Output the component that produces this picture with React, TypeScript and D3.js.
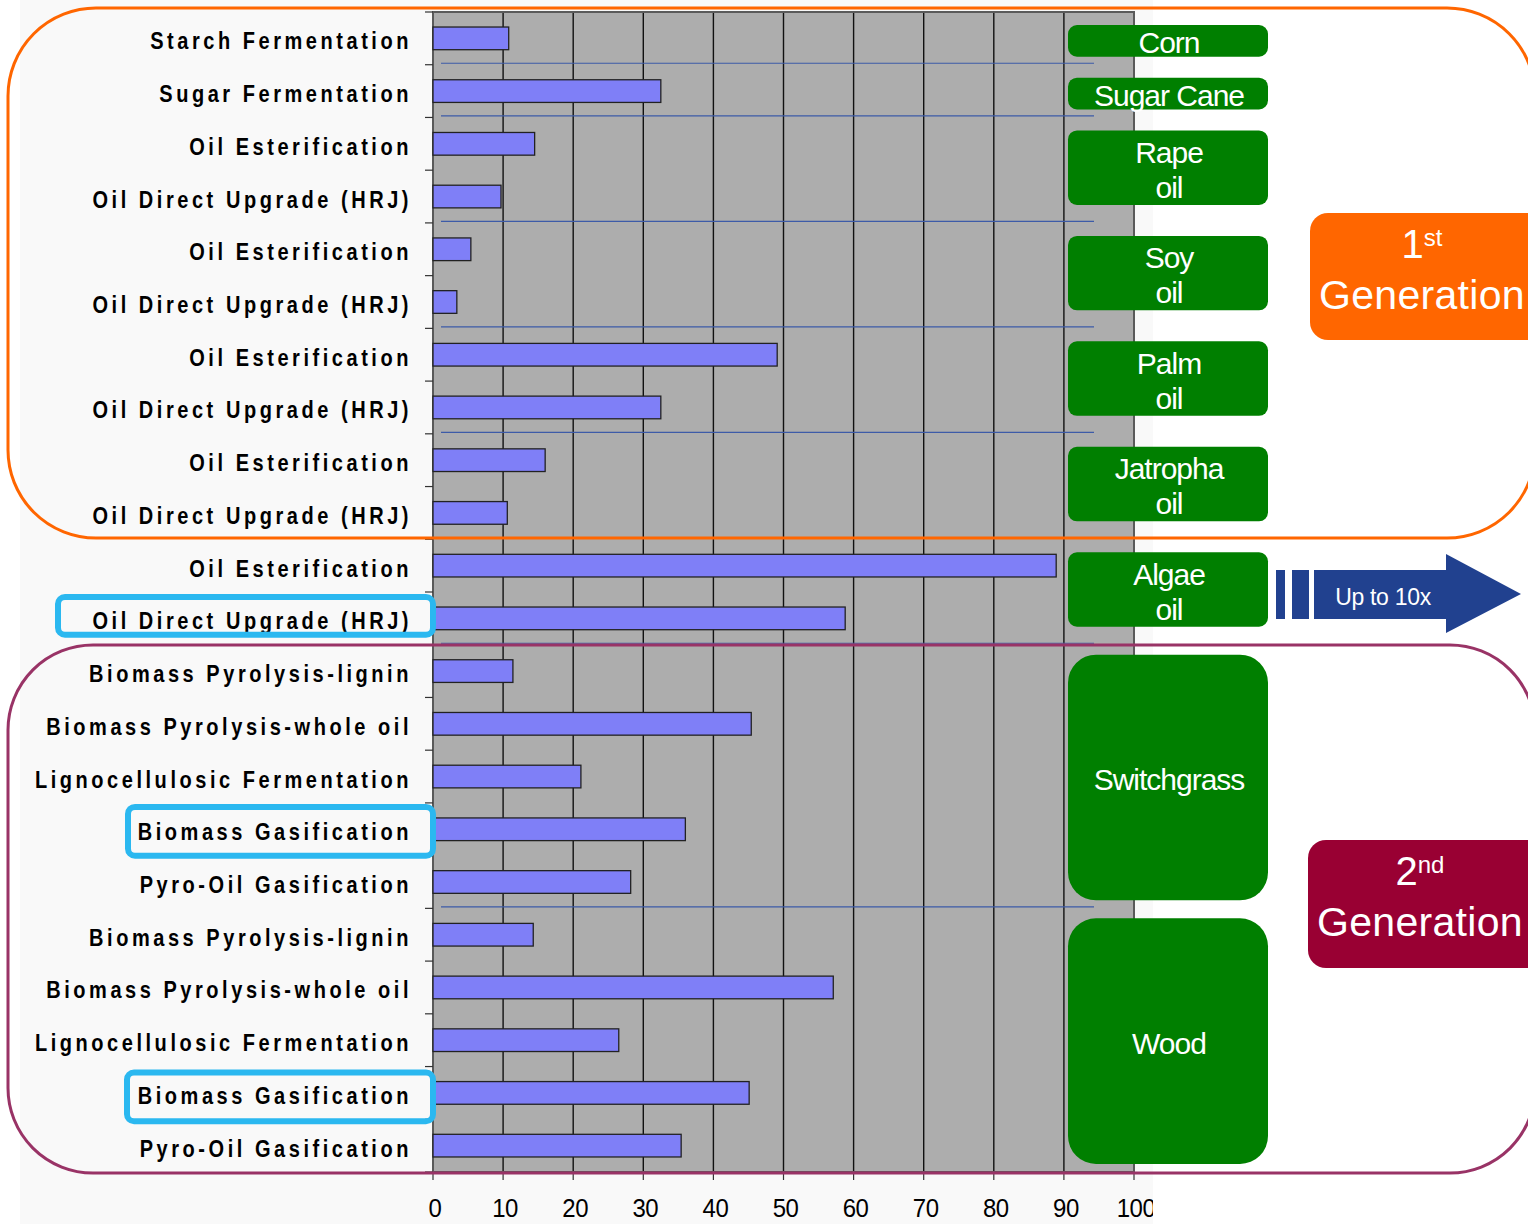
import React from 'react'
import * as d3 from 'd3'

// conversion routes (one bar each), top to bottom
const processes = [
  'Starch Fermentation',
  'Sugar Fermentation',
  'Oil Esterification',
  'Oil Direct Upgrade (HRJ)',
  'Oil Esterification',
  'Oil Direct Upgrade (HRJ)',
  'Oil Esterification',
  'Oil Direct Upgrade (HRJ)',
  'Oil Esterification',
  'Oil Direct Upgrade (HRJ)',
  'Oil Esterification',
  'Oil Direct Upgrade (HRJ)',
  'Biomass Pyrolysis-lignin',
  'Biomass Pyrolysis-whole oil',
  'Lignocellulosic Fermentation',
  'Biomass Gasification',
  'Pyro-Oil Gasification',
  'Biomass Pyrolysis-lignin',
  'Biomass Pyrolysis-whole oil',
  'Lignocellulosic Fermentation',
  'Biomass Gasification',
  'Pyro-Oil Gasification',
]
const yields = [
  10.8, 32.5, 14.5, 9.7, 5.4, 3.4, 49.1, 32.5, 16.0, 10.6, 88.9, 58.8,
  11.4, 45.4, 21.1, 36.0, 28.2, 14.3, 57.1, 26.5, 45.1, 35.4,
]

// feedstock groups on the right
const feedstockNames = [
  ['Corn'], ['Sugar Cane'], ['Rape', 'oil'], ['Soy', 'oil'], ['Palm', 'oil'],
  ['Jatropha', 'oil'], ['Algae', 'oil'], ['Switchgrass'], ['Wood'],
]
const feedstockFirst = [0, 1, 2, 4, 6, 8, 10, 12, 17]
const feedstockLast = [0, 1, 3, 5, 7, 9, 11, 16, 21]

const xTicks = [0, 10, 20, 30, 40, 50, 60, 70, 80, 90, 100]
const highlightRows = [11, 15, 20]

const W = 1528
const H = 1224
const plot = { left: 433, right: 1134, top: 12, bottom: 1172 }

const App = () => {
  const x = d3.scaleLinear().domain([0, 100]).range([plot.left, plot.right])
  const y = d3
    .scaleBand<number>()
    .domain(d3.range(processes.length))
    .range([plot.top, plot.bottom])
    .paddingInner(0.57)
    .paddingOuter(0.285)
  const step = y.step()
  const rowTop = (i: number) => plot.top + i * step
  const rowMid = (i: number) => (y(i) as number) + y.bandwidth() / 2

  // group separators (blue lines)
  const separators = feedstockLast.slice(0, -1).map((l) => rowTop(l + 1) - 1.5)

  const labelFont = "'Liberation Sans', Arial, sans-serif"
  const highlightLeft = [58, 128, 127]
  const highlightPad = [[5, 10], [4, 0], [6, -2]]

  return (
    <svg
      width={W}
      height={H}
      style={{ position: 'absolute', left: 0, top: 0, display: 'block' }}
      fontFamily={labelFont}
    >
      <defs>
        <clipPath id="panel">
          <rect x={20} y={0} width={1133} height={H} />
        </clipPath>
      </defs>
      <rect x={0} y={0} width={W} height={H} fill="#ffffff" />
      <rect x={20} y={0} width={1133} height={H} fill="#f9f9f9" />

      {/* plot area */}
      <rect
        x={plot.left}
        y={plot.top}
        width={plot.right - plot.left}
        height={plot.bottom - plot.top}
        fill="#adadad"
      />
      {xTicks.slice(1, -1).map((t) => (
        <line key={t} x1={x(t)} x2={x(t)} y1={plot.top} y2={plot.bottom} stroke="#111" strokeWidth={1.4} />
      ))}
      <rect
        x={plot.left}
        y={plot.top}
        width={plot.right - plot.left}
        height={plot.bottom - plot.top}
        fill="none"
        stroke="#5a5a5a"
        strokeWidth={2}
      />
      {separators.map((sy, i) => (
        <line key={i} x1={441} x2={1094} y1={sy} y2={sy} stroke="#3d5ba8" strokeWidth={1.2} />
      ))}

      {/* y ticks */}
      {d3.range(processes.length + 1).map((i) => (
        <line key={i} x1={425} x2={plot.left} y1={rowTop(i)} y2={rowTop(i)} stroke="#333" strokeWidth={1.2} />
      ))}
      {/* x ticks */}
      {xTicks.map((t) => (
        <line key={t} x1={x(t)} x2={x(t)} y1={plot.bottom} y2={plot.bottom + 8} stroke="#333" strokeWidth={1.2} />
      ))}
      <g clipPath="url(#panel)">
        {xTicks.map((t) => (
          <text
            key={t}
            transform={`translate(${x(t) + 2},1217) scale(1,1.08)`}
            textAnchor="middle"
            fontSize={24}
            letterSpacing={-0.5}
            fill="#000"
          >
            {t}
          </text>
        ))}
      </g>

      {/* bars */}
      {yields.map((v, i) => (
        <rect
          key={i}
          x={x(0)}
          y={y(i)}
          width={x(v) - x(0)}
          height={y.bandwidth()}
          fill="#7f7ff7"
          stroke="#222"
          strokeWidth={1.3}
        />
      ))}

      {/* category labels */}
      {processes.map((p, i) => (
        <text
          key={i}
          transform={`translate(412,${rowMid(i) + 11}) scale(1,1.2)`}
          textAnchor="end"
          fontSize={20}
          fontWeight="bold"
          letterSpacing={3.55}
          fill="#000"
        >
          {p}
        </text>
      ))}

      {/* feedstock boxes */}
      {feedstockNames.map((lines, g) => {
        const rows = feedstockLast[g] - feedstockFirst[g] + 1
        const top = rowTop(feedstockFirst[g]) + (rows > 2 ? 10 : 13)
        const bottom = rowTop(feedstockLast[g] + 1) - (rows === 2 ? 18 : 8)
        const mid = (top + bottom) / 2
        return (
          <g key={g}>
            <rect
              x={1068}
              y={top}
              width={200}
              height={bottom - top}
              rx={rows > 2 ? 28 : 9}
              fill="#007f00"
            />
            {lines.map((ln, k) => (
              <text
                key={k}
                x={1169}
                y={mid + 12.5 + (k - (lines.length - 1) / 2) * 35}
                textAnchor="middle"
                fontSize={30}
                letterSpacing={-1}
                fill="#fff"
              >
                {ln}
              </text>
            ))}
          </g>
        )
      })}

      {/* generation frames */}
      <rect x={8} y={8} width={1527} height={530} rx={88} fill="none" stroke="#ff6600" strokeWidth={3} />
      <rect x={8} y={645} width={1527} height={528} rx={85} fill="none" stroke="#993366" strokeWidth={3} />

      {/* highlighted routes */}
      {highlightRows.map((r, i) => (
        <rect
          key={r}
          x={highlightLeft[i]}
          y={rowTop(r) + highlightPad[i][0]}
          width={433 - highlightLeft[i]}
          height={step - highlightPad[i][0] - highlightPad[i][1]}
          rx={7}
          fill="none"
          stroke="#2bb8f0"
          strokeWidth={6}
        />
      ))}

      {/* generation tags */}
      <rect x={1310} y={213} width={240} height={127} rx={18} fill="#ff6600" />
      <text x={1422} y={258} textAnchor="middle" fill="#fff" fontSize={40}>
        <tspan>1</tspan>
        <tspan fontSize={24} dy={-12}>st</tspan>
      </text>
      <text x={1422} y={309} textAnchor="middle" fill="#fff" fontSize={41} letterSpacing={0.3}>
        Generation
      </text>
      <rect x={1308} y={840} width={240} height={128} rx={18} fill="#990033" />
      <text x={1420} y={885} textAnchor="middle" fill="#fff" fontSize={40}>
        <tspan>2</tspan>
        <tspan fontSize={24} dy={-12}>nd</tspan>
      </text>
      <text x={1420} y={936} textAnchor="middle" fill="#fff" fontSize={41} letterSpacing={0.3}>
        Generation
      </text>

      {/* algae arrow */}
      <g fill="#21418f">
        <rect x={1276} y={570} width={9} height={49} />
        <rect x={1292} y={570} width={17} height={49} />
        <polygon points="1314,570 1446,570 1446,554 1521,594 1446,633 1446,619 1314,619" />
      </g>
      <text x={1383} y={605} textAnchor="middle" fill="#fff" fontSize={23} letterSpacing={-0.3}>
        Up to 10x
      </text>
    </svg>
  )
}

export default App
